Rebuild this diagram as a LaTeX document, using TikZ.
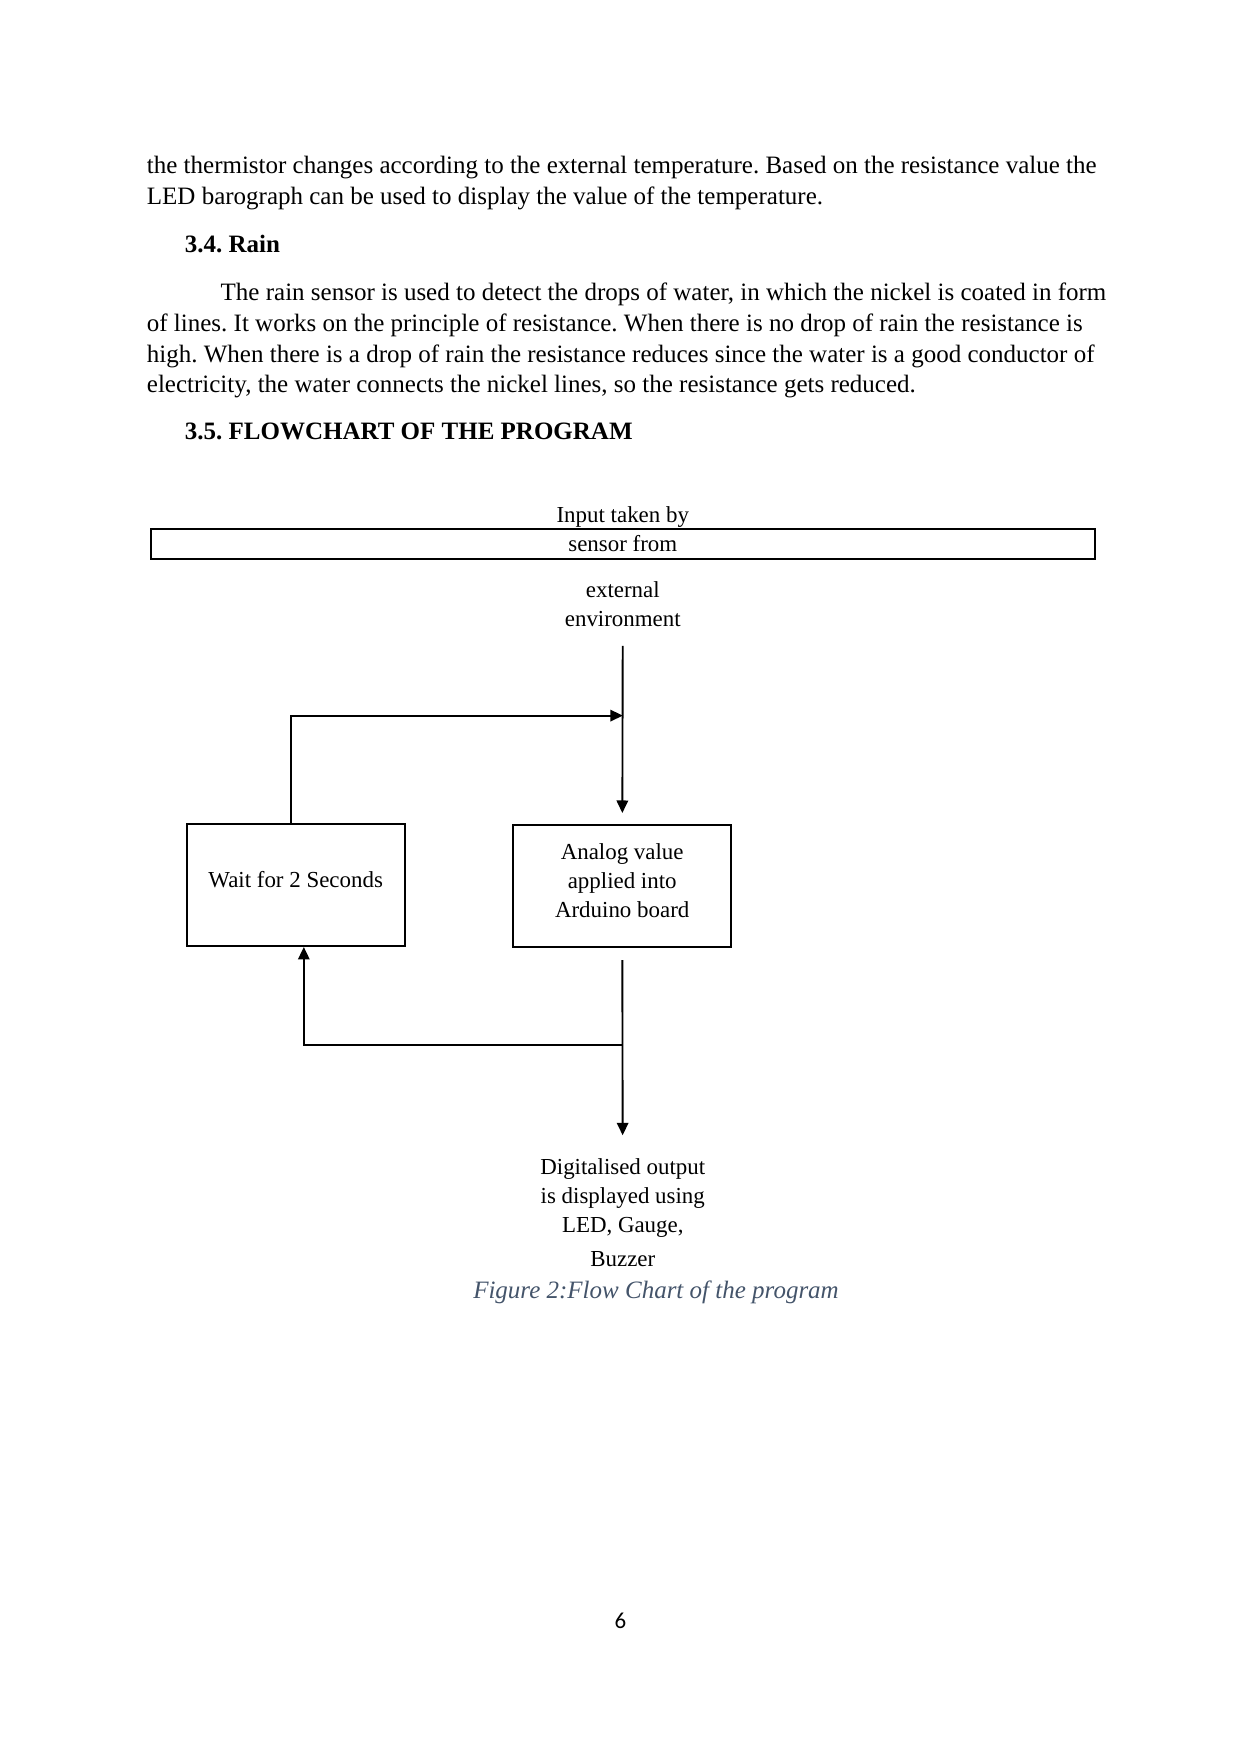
\documentclass[tikz,border=0pt]{standalone}
\usepackage{fontspec}
\setmainfont{Liberation Serif}
\newfontfamily\pagenumfont{Carlito}
\usepackage{xcolor}
\usepackage{tikz}
\usetikzlibrary{arrows.meta, positioning, calc}
\definecolor{captiongray}{HTML}{44546A}
\frenchspacing

\begin{document}
\begin{tikzpicture}[x=0.48pt, y=-0.48pt,
  bodyline/.style={anchor=base west, inner sep=0pt,
                   font=\fontsize{12}{14.7}\selectfont},
  headline/.style={bodyline, font=\fontsize{12}{14.7}\selectfont\bfseries},
  label/.style={inner sep=0pt, align=center,
                font=\fontsize{11}{14}\selectfont},
  stepbox/.style={rectangle, draw, line width=0.9pt, inner sep=2pt,
                  minimum width=104.6pt, minimum height=58.6pt,
                  align=center, font=\fontsize{11}{14}\selectfont},
  flow/.style={-{Triangle[length=6pt, width=5.5pt]}, line width=0.9pt}
]
\useasboundingbox (0,0) rectangle (1240,1754);

% Body text
\node[bodyline] (t1) at (146.5,173.5) {the thermistor changes according to the external temperature. Based on the resistance value the};
\node[bodyline] (t2) at (146.5,204.5) {LED barograph can be used to display the value of the temperature.};
\node[headline] (rain) at (184.5,252.5) {3.4. Rain};
\node[bodyline] (p1) at (220.3,300.5) {The rain sensor is used to detect the drops of water, in which the nickel is coated in form};
\node[bodyline] (p2) at (146.5,331) {of lines. It works on the principle of resistance. When there is no drop of rain the resistance is};
\node[bodyline] (p3) at (146.5,362) {high. When there is a drop of rain the resistance reduces since the water is a good conductor of};
\node[bodyline] (p4) at (146.5,392.5) {electricity, the water connects the nickel lines, so the resistance gets reduced.};
\node[headline] (flowhead) at (184.5,439.5) {3.5. FLOWCHART OF THE PROGRAM};

% Input from sensor
\node[label] (input) at (622.8,517.5) {Input taken by};
\node[rectangle, draw, line width=1.1pt, inner sep=0pt, minimum width=453pt,
      minimum height=14.4pt, font=\fontsize{11}{14}\selectfont]
      (sensor) at (622.8,544) {sensor from};
\node[label, align=center] (env) at (622.8,604) {external\\environment};

% Process boxes
\node[stepbox] (wait) at (295.7,885) {Wait for 2 Seconds\\[-9pt]};
\node[stepbox] (analog) at (622.2,886) {Analog value\\applied into\\Arduino board\\[-9pt]};

% Output
\node[label] (output) at (622.8,1212.5) {Digitalised output\\is displayed using\\LED, Gauge,\\[2pt]Buzzer};
\node[inner sep=0pt, font=\fontsize{12}{14}\selectfont\itshape, text=captiongray]
      (caption) at (656,1292) {Figure 2:Flow Chart of the program};

% Connectors
\coordinate (join) at (622.8,715.6);
\coordinate (split) at (622.8,1045.4);
\draw[flow, shorten <=9pt, shorten >=5.3pt] (env) -- (analog);
\draw[flow] ([xshift=-2.4pt]wait.north) |- (join);
\draw[flow, shorten <=5.8pt, shorten >=11pt] (analog) -- (output);
\draw[flow] (split) -| ([xshift=3.9pt]wait.south);

% Page number
\node[inner sep=0pt, font=\pagenumfont\fontsize{11}{13}\selectfont] (pagenum) at (620.5,1621) {6};
\end{tikzpicture}
\end{document}
